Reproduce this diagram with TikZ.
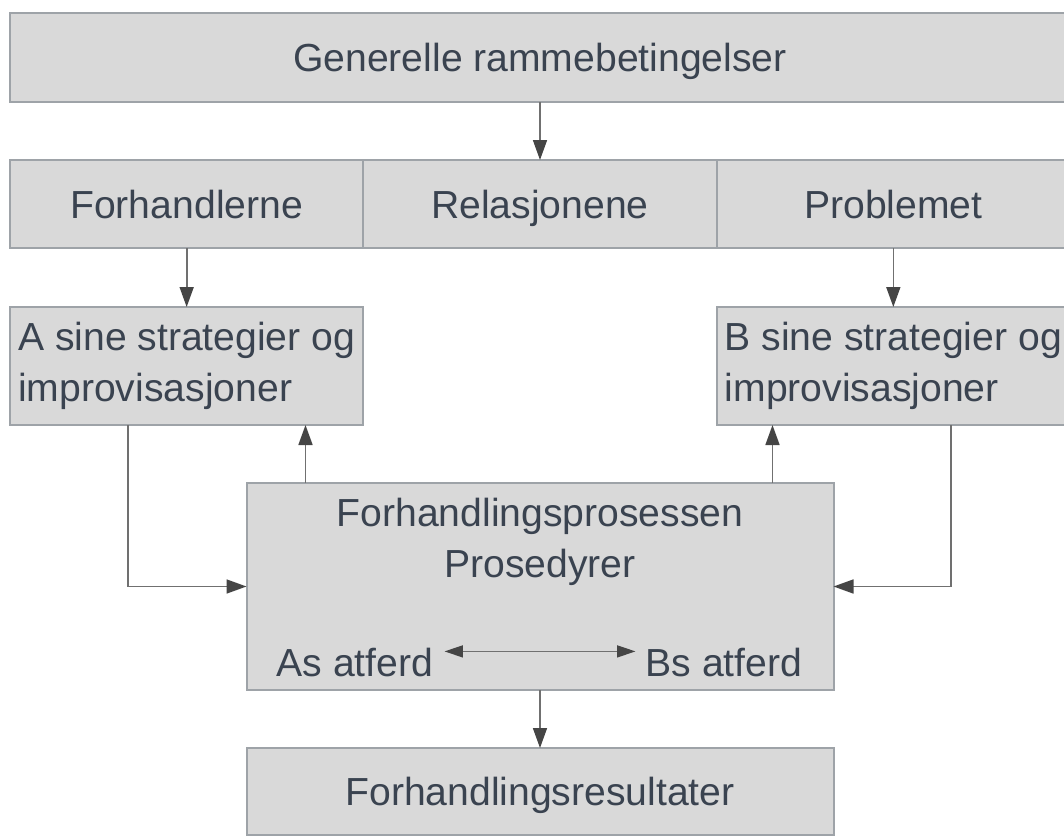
\documentclass[tikz,border=0pt]{standalone}
\usepackage{fontspec}
\setmainfont{Liberation Sans}
\usepackage{tikz}
\definecolor{boxfill}{HTML}{D9D9D9}
\definecolor{boxline}{HTML}{9EA3A8}
\definecolor{textgray}{HTML}{3A4350}
\definecolor{linegray}{HTML}{707070}
\definecolor{tipgray}{HTML}{454545}
\usetikzlibrary{arrows.meta, positioning}
\tikzstyle{block} = [draw=boxline, fill=boxfill, rectangle, line width=0.06cm, text=textgray,
    outer sep=0pt, inner sep=0.25cm, minimum width=10.6cm, minimum height=2.64cm]
\tikzstyle{onerow} = [block, text height=26pt, text depth=2pt]
\tikzstyle{sidetext} = [block, align=left, inner xsep=0.05cm, minimum height=3.54cm]
\tikzstyle{atferd} = [text=textgray, inner sep=0pt]
\tikzstyle{arrow} = [-{Triangle[length=0.6cm, width=0.42cm, color=tipgray, fill=tipgray]},
    draw=linegray, line width=0.05cm]
\tikzstyle{dblarrow} = [{Triangle[length=0.55cm, width=0.36cm, color=tipgray, fill=tipgray]}-{Triangle[length=0.55cm, width=0.36cm, color=tipgray, fill=tipgray]},
    draw=linegray, line width=0.04cm]

\begin{document}
\begin{tikzpicture}[node distance=1.74cm, font=\fontsize{33.4pt}{43.5pt}\selectfont]
    \useasboundingbox (0,0) rectangle (31.92,-25.14);

    % Place the blocks
    \node [onerow, minimum width=31.8cm, minimum height=2.67cm] (gen) at (16.2,-1.725) {Generelle rammebetingelser};
    \node [onerow, below=of gen] (rel) {Relasjonene};
    \node [onerow, left=0cm of rel] (forh) {Forhandlerne};
    \node [onerow, right=0cm of rel] (prob) {Problemet};
    \node [sidetext, below=1.77cm of forh] (stratA) {A sine strategier og\\improvisasjoner};
    \node [sidetext, below=1.77cm of prob] (stratB) {B sine strategier og\\improvisasjoner};
    \coordinate (procTop) at (stratA.south -| rel.south);
    \node [block, below=of procTop, minimum width=17.61cm, minimum height=6.21cm] (proc) {};
    \node [atferd, align=center, below=0.44cm of proc.north] (title) {Forhandlingsprosessen\\Prosedyrer};
    \node [atferd, above right=0.39cm and 0.9cm of proc.south west] (atfA) {As atferd};
    \node [atferd, above left=0.39cm and 0.93cm of proc.south east] (atfB) {Bs atferd};
    \node [onerow, below=of proc, minimum width=17.61cm, minimum height=2.61cm] (res) {Forhandlingsresultater};

    % Connect the nodes
    \coordinate [right=1.77cm of proc.north west] (upA);
    \coordinate [left=1.83cm of proc.north east] (upB);
    \coordinate [left=1.76cm of stratA.south] (downA);
    \coordinate [right=1.73cm of stratB.south] (downB);
    \draw [arrow] (gen) -- (rel);
    \draw [arrow] (forh) -- (stratA);
    \draw [arrow] (prob) -- (stratB);
    \draw [arrow] (upA) -- (upA |- stratA.south);
    \draw [arrow] (upB) -- (upB |- stratB.south);
    \draw [arrow] (downA) |- (proc);
    \draw [arrow] (downB) |- (proc);
    \draw [arrow] (proc) -- (res);
    \draw [dblarrow] ([xshift=0.33cm, yshift=0.33cm]atfA.east) -- ([xshift=-0.3cm, yshift=0.33cm]atfB.west);
\end{tikzpicture}
\end{document}
